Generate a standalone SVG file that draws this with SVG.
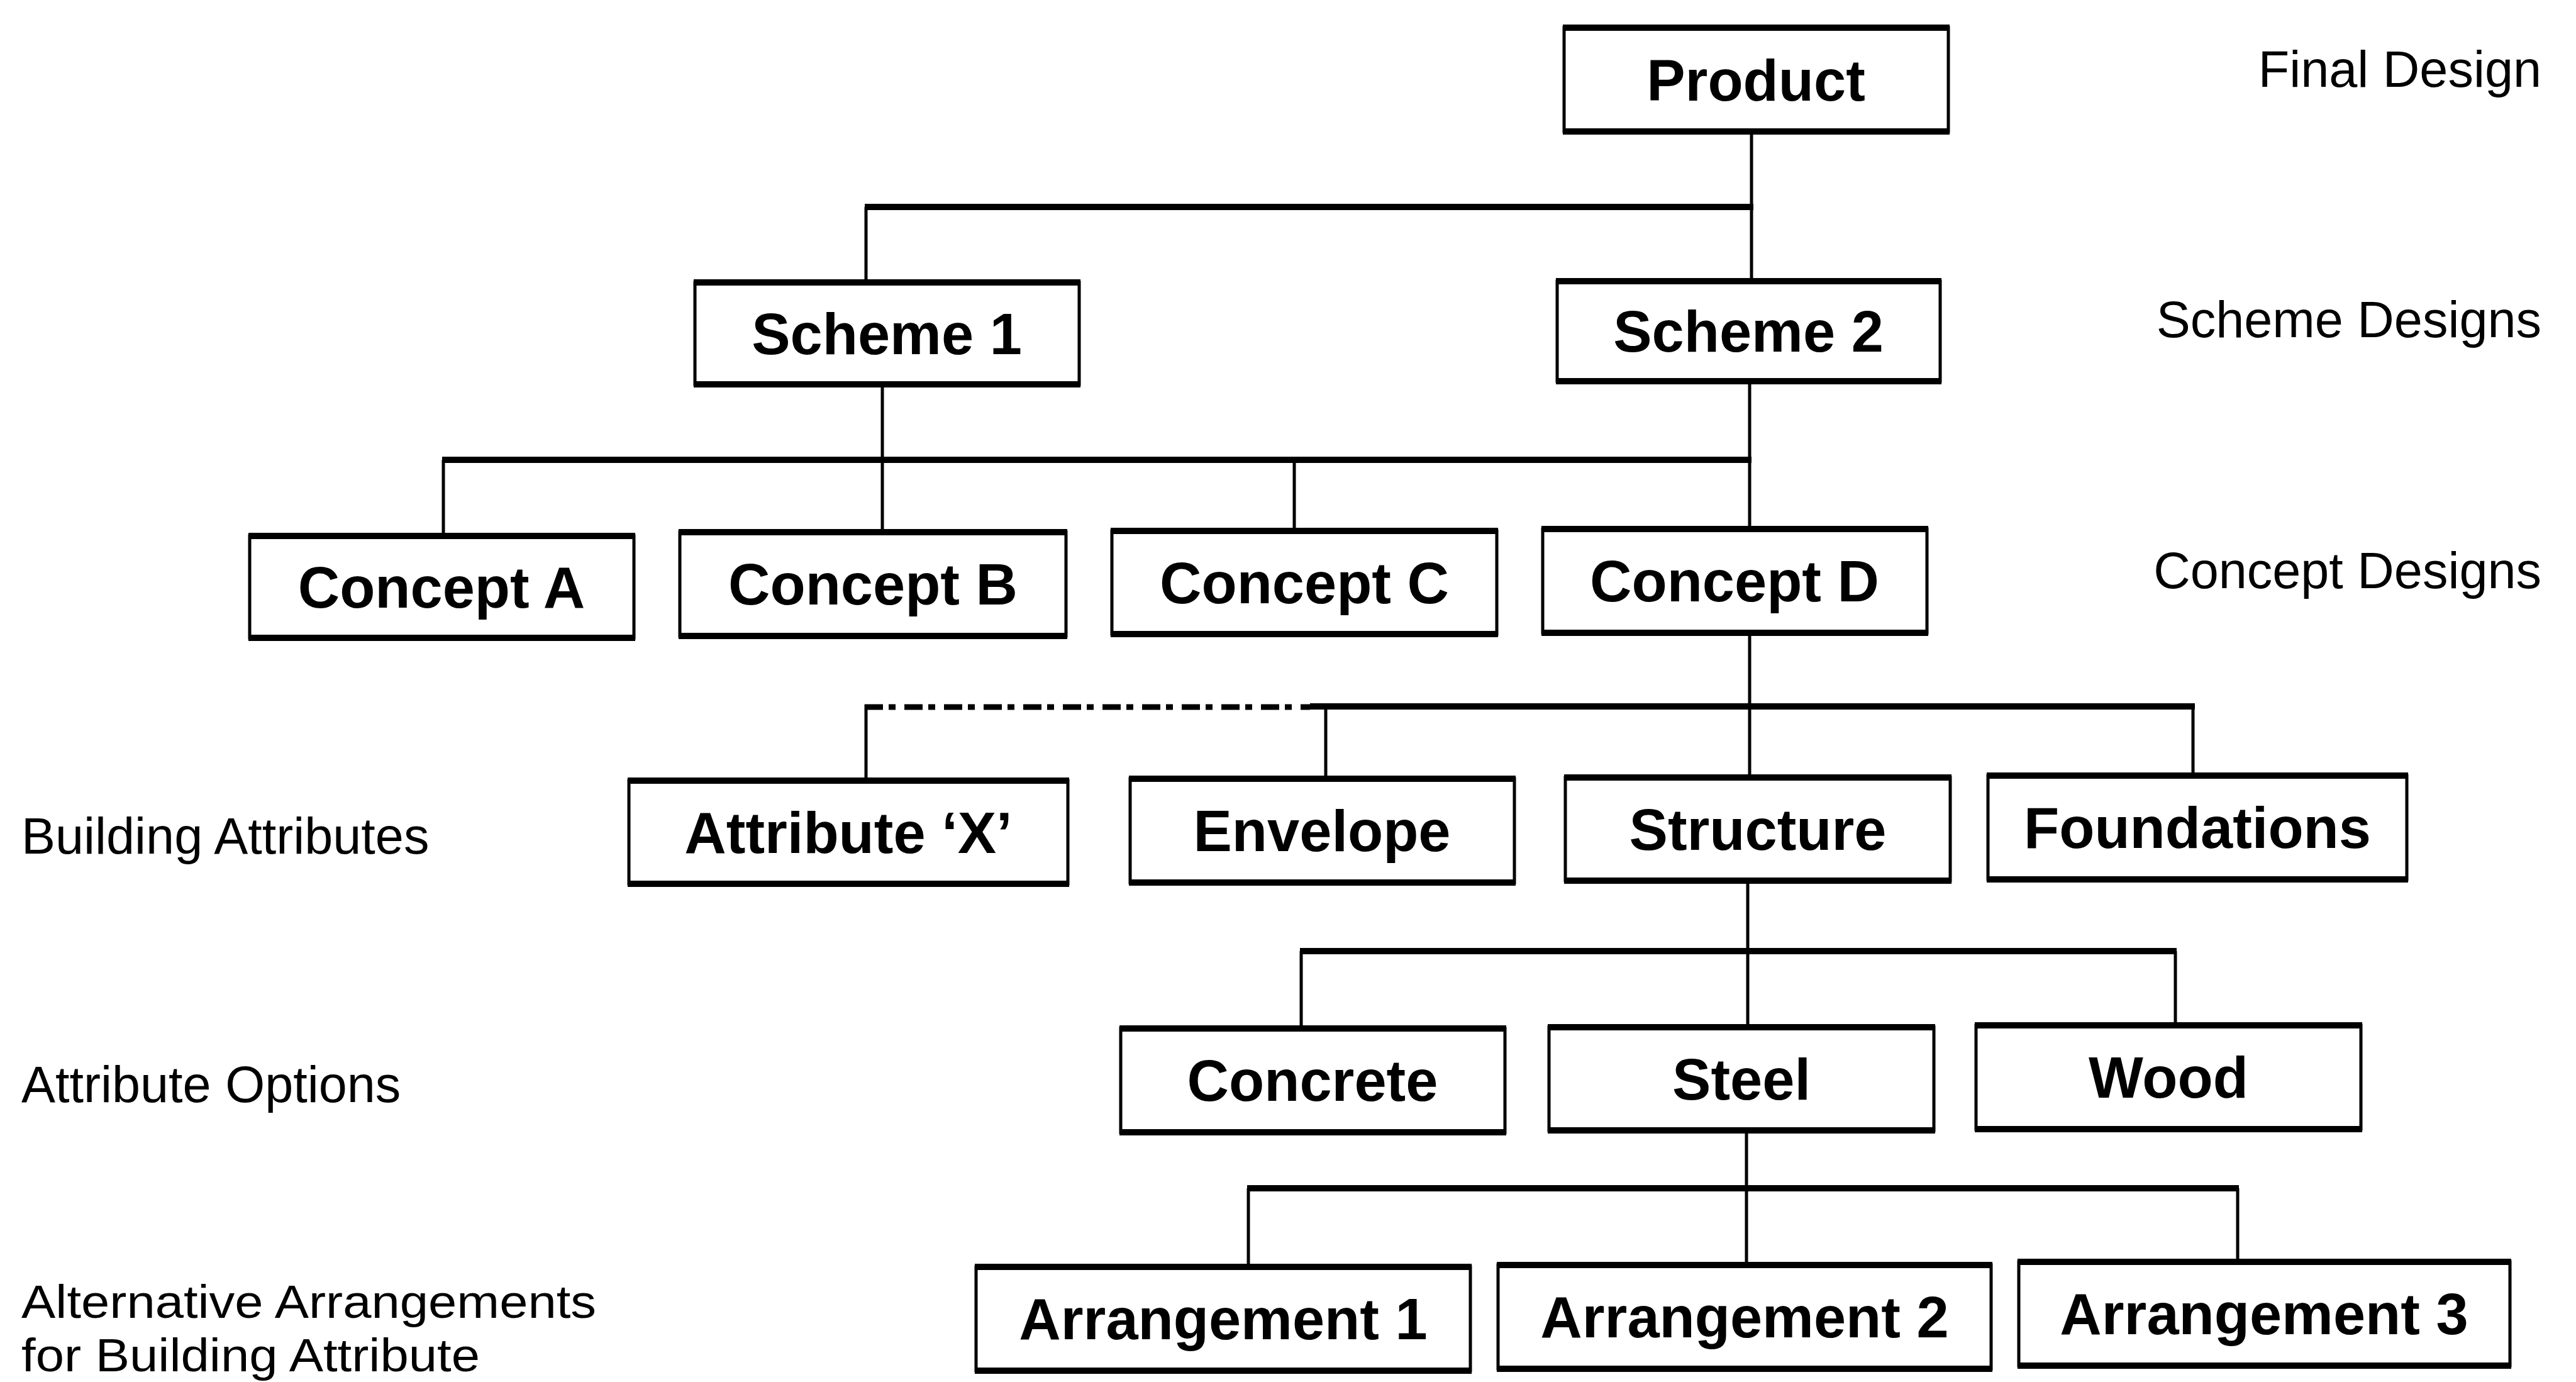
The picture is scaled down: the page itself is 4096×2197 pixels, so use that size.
<svg xmlns="http://www.w3.org/2000/svg" width="4096" height="2197" viewBox="0 0 4096 2197">
  <style>
    .box { fill: #fff; stroke: #000; stroke-width: 5; }
    .rim { fill: none; stroke: #000; stroke-width: 10; }
    .lbl { font-family: "Liberation Sans", Arial, Helvetica, sans-serif; font-weight: bold; font-size: 92px; text-anchor: middle; fill: #000; }
    .row { font-family: "Liberation Sans", Arial, Helvetica, sans-serif; font-size: 81px; fill: #000; }
    .row-r { text-anchor: end; }
    .row-s { font-size: 75px; }
    .v { stroke: #000; stroke-width: 5; fill: none; }
    .h { stroke: #000; stroke-width: 10; fill: none; }
    .dash { stroke: #000; stroke-width: 9; fill: none; stroke-dasharray: 29 9 11 14; }
  </style>
  <rect width="4096" height="2197" fill="#fff"/>

  <!-- tree connectors -->
  <g id="connectors">
    <!-- product to schemes -->
    <line class="v" x1="2785" y1="209" x2="2785" y2="447"/>
    <line class="h" x1="1375" y1="329" x2="2788" y2="329"/>
    <line class="v" x1="1377" y1="329" x2="1377" y2="449"/>
    <!-- schemes to concepts -->
    <line class="v" x1="2782" y1="606" x2="2782" y2="841"/>
    <line class="v" x1="1403" y1="611" x2="1403" y2="846"/>
    <line class="h" x1="703" y1="731" x2="2785" y2="731"/>
    <line class="v" x1="705" y1="731" x2="705" y2="852"/>
    <line class="v" x1="2058" y1="731" x2="2058" y2="844"/>
    <!-- concept D to building attributes; optional branch dash-dotted -->
    <line class="v" x1="2782" y1="1006" x2="2782" y2="1236"/>
    <line class="dash" x1="1375" y1="1124" x2="2083" y2="1124"/>
    <line class="h" x1="2083" y1="1123" x2="3490" y2="1123"/>
    <line class="v" x1="1377" y1="1120" x2="1377" y2="1241"/>
    <line class="v" x1="2108" y1="1123" x2="2108" y2="1238"/>
    <line class="v" x1="3487" y1="1123" x2="3487" y2="1233"/>
    <!-- structure to options -->
    <line class="v" x1="2779" y1="1400" x2="2779" y2="1633"/>
    <line class="h" x1="2067" y1="1512" x2="3461" y2="1512"/>
    <line class="v" x1="2069" y1="1512" x2="2069" y2="1635"/>
    <line class="v" x1="3459" y1="1512" x2="3459" y2="1630"/>
    <!-- steel to arrangements -->
    <line class="v" x1="2777" y1="1797" x2="2777" y2="2011"/>
    <line class="h" x1="1983" y1="1889" x2="3560" y2="1889"/>
    <line class="v" x1="1985" y1="1889" x2="1985" y2="2014"/>
    <line class="v" x1="3558" y1="1889" x2="3558" y2="2006"/>
  </g>

  <!-- level captions -->
  <g id="row-labels">
    <text class="row row-r" x="4041" y="138">Final Design</text>
    <text class="row row-r" x="4041" y="536">Scheme Designs</text>
    <text class="row row-r" x="4041" y="935">Concept Designs</text>
    <text class="row" x="34" y="1357">Building Attributes</text>
    <text class="row" x="34" y="1752">Attribute Options</text>
    <text class="row row-s" x="34" y="2095" textLength="914" lengthAdjust="spacingAndGlyphs">Alternative Arrangements</text>
    <text class="row row-s" x="34" y="2180" textLength="729" lengthAdjust="spacingAndGlyphs">for Building Attribute</text>
  </g>

  <!-- nodes: rect with heavier top/bottom rims -->
  <g id="node-product">
    <rect class="box" x="2487" y="44" width="611" height="165"/>
    <path class="rim" d="M2485 44H3100M2485 209H3100"/>
    <text class="lbl" x="2792" y="160">Product</text>
  </g>
  <g id="node-scheme-1">
    <rect class="box" x="1105" y="449" width="611" height="162"/>
    <path class="rim" d="M1103 449H1718M1103 611H1718"/>
    <text class="lbl" x="1410" y="563">Scheme 1</text>
  </g>
  <g id="node-scheme-2">
    <rect class="box" x="2476" y="447" width="609" height="159"/>
    <path class="rim" d="M2474 447H3087M2474 606H3087"/>
    <text class="lbl" x="2780" y="559">Scheme 2</text>
  </g>
  <g id="node-concept-a">
    <rect class="box" x="397" y="852" width="611" height="162"/>
    <path class="rim" d="M395 852H1010M395 1014H1010"/>
    <text class="lbl" x="702" y="966">Concept A</text>
  </g>
  <g id="node-concept-b">
    <rect class="box" x="1081" y="846" width="614" height="165"/>
    <path class="rim" d="M1079 846H1697M1079 1011H1697"/>
    <text class="lbl" x="1388" y="961">Concept B</text>
  </g>
  <g id="node-concept-c">
    <rect class="box" x="1768" y="844" width="612" height="164"/>
    <path class="rim" d="M1766 844H2382M1766 1008H2382"/>
    <text class="lbl" x="2074" y="959">Concept C</text>
  </g>
  <g id="node-concept-d">
    <rect class="box" x="2453" y="841" width="611" height="165"/>
    <path class="rim" d="M2451 841H3066M2451 1006H3066"/>
    <text class="lbl" x="2758" y="956">Concept D</text>
  </g>
  <g id="node-attribute-x">
    <rect class="box" x="1000" y="1241" width="698" height="164"/>
    <path class="rim" d="M998 1241H1700M998 1405H1700"/>
    <text class="lbl" x="1349" y="1356">Attribute ‘X’</text>
  </g>
  <g id="node-envelope">
    <rect class="box" x="1797" y="1238" width="611" height="165"/>
    <path class="rim" d="M1795 1238H2410M1795 1403H2410"/>
    <text class="lbl" x="2102" y="1353">Envelope</text>
  </g>
  <g id="node-structure">
    <rect class="box" x="2489" y="1236" width="612" height="164"/>
    <path class="rim" d="M2487 1236H3103M2487 1400H3103"/>
    <text class="lbl" x="2795" y="1351">Structure</text>
  </g>
  <g id="node-foundations">
    <rect class="box" x="3161" y="1233" width="666" height="165"/>
    <path class="rim" d="M3159 1233H3829M3159 1398H3829"/>
    <text class="lbl" x="3494" y="1348">Foundations</text>
  </g>
  <g id="node-concrete">
    <rect class="box" x="1782" y="1635" width="611" height="165"/>
    <path class="rim" d="M1780 1635H2395M1780 1800H2395"/>
    <text class="lbl" x="2087" y="1750">Concrete</text>
  </g>
  <g id="node-steel">
    <rect class="box" x="2463" y="1633" width="612" height="164"/>
    <path class="rim" d="M2461 1633H3077M2461 1797H3077"/>
    <text class="lbl" x="2769" y="1748">Steel</text>
  </g>
  <g id="node-wood">
    <rect class="box" x="3142" y="1630" width="612" height="165"/>
    <path class="rim" d="M3140 1630H3756M3140 1795H3756"/>
    <text class="lbl" x="3448" y="1745">Wood</text>
  </g>
  <g id="node-arrangement-1">
    <rect class="box" x="1552" y="2014" width="786" height="165"/>
    <path class="rim" d="M1550 2014H2340M1550 2179H2340"/>
    <text class="lbl" x="1945" y="2129">Arrangement 1</text>
  </g>
  <g id="node-arrangement-2">
    <rect class="box" x="2382" y="2011" width="784" height="165"/>
    <path class="rim" d="M2380 2011H3168M2380 2176H3168"/>
    <text class="lbl" x="2774" y="2126">Arrangement 2</text>
  </g>
  <g id="node-arrangement-3">
    <rect class="box" x="3210" y="2006" width="781" height="165"/>
    <path class="rim" d="M3208 2006H3993M3208 2171H3993"/>
    <text class="lbl" x="3600" y="2121">Arrangement 3</text>
  </g>
</svg>
